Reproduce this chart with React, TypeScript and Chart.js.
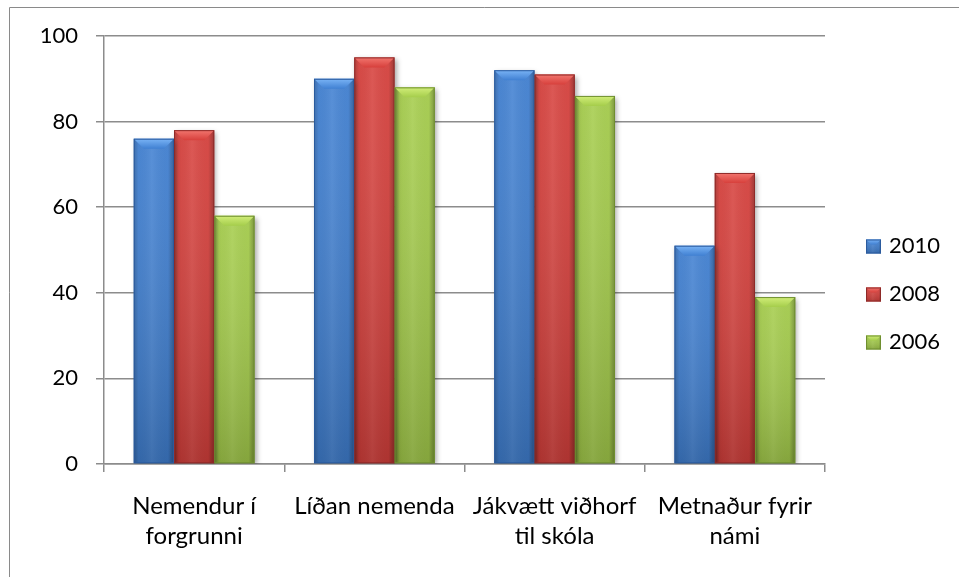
import React, { useEffect, useRef } from "react";
import { Chart, registerables } from "chart.js";

Chart.register(...registerables);

const categories: string[][] = [
  ["Nemendur í", "forgrunni"],
  ["Líðan nemenda"],
  ["Jákvætt viðhorf", "til skóla"],
  ["Metnaður fyrir", "námi"],
];
const seriesLabels = ["2010", "2008", "2006"];
const values2010 = [76, 90, 92, 51];
const values2008 = [78, 95, 91, 68];
const values2006 = [58, 88, 86, 39];
const yMin = 0;
const yMax = 100;
const yStep = 20;

const seriesColors = ["#4080D2", "#D7403C", "#A5CD4B"];
const edgeColors = ["#2B5B9E", "#8E2A28", "#6F8F30"];
const bevelColors = ["#7AB4F6", "#F2766F", "#D2EE7A"];

const FONT = "Lato, 'Open Sans', sans-serif";
const GRID = "#8C8C8C";

const frame = {
  id: "frame",
  beforeDraw(chart: any) {
    const ctx = chart.ctx;
    ctx.save();
    ctx.fillStyle = "#ffffff";
    ctx.fillRect(0, 0, chart.width, chart.height);
    ctx.strokeStyle = "#8A8A8A";
    ctx.lineWidth = 1;
    ctx.beginPath();
    ctx.moveTo(9.5, chart.height);
    ctx.lineTo(9.5, 7.5);
    ctx.lineTo(chart.width, 7.5);
    ctx.stroke();
    ctx.restore();
  },
};

const barShadow = {
  id: "barShadow",
  beforeDatasetsDraw(chart: any) {
    const ctx = chart.ctx;
    ctx.save();
    ctx.shadowColor = "rgba(0,0,0,0.35)";
    ctx.shadowBlur = 5;
    ctx.shadowOffsetX = 2;
    ctx.shadowOffsetY = 2;
  },
  afterDatasetsDraw(chart: any) {
    chart.ctx.restore();
  },
};

function drawBevelBox(ctx: any, l: number, t: number, w: number, h: number, di: number, bevel: number) {
  ctx.save();
  let g = ctx.createLinearGradient(l, 0, l + w, 0);
  g.addColorStop(0, "rgba(0,0,0,0.22)");
  g.addColorStop(0.12, "rgba(0,0,0,0.02)");
  g.addColorStop(0.45, "rgba(255,255,255,0.07)");
  g.addColorStop(0.85, "rgba(0,0,0,0.02)");
  g.addColorStop(1, "rgba(0,0,0,0.3)");
  ctx.fillStyle = g;
  ctx.fillRect(l, t, w, h);
  g = ctx.createLinearGradient(0, t, 0, t + h);
  g.addColorStop(0, "rgba(255,255,255,0.06)");
  g.addColorStop(1, "rgba(0,0,0,0.18)");
  ctx.fillStyle = g;
  ctx.fillRect(l, t, w, h);
  const bv = Math.min(bevel, h / 2, w / 3);
  ctx.beginPath();
  ctx.moveTo(l, t);
  ctx.lineTo(l + w, t);
  ctx.lineTo(l + w - bv, t + bv);
  ctx.lineTo(l + bv, t + bv);
  ctx.closePath();
  const bg = ctx.createLinearGradient(0, t, 0, t + bv);
  bg.addColorStop(0, bevelColors[di]);
  bg.addColorStop(1, seriesColors[di]);
  ctx.fillStyle = bg;
  ctx.fill();
  ctx.strokeStyle = edgeColors[di];
  ctx.lineWidth = 1;
  ctx.strokeRect(l + 0.5, t + 0.5, w - 1, h - 1);
  ctx.restore();
}

const barFx = {
  id: "barFx",
  afterDatasetsDraw(chart: any) {
    const ctx = chart.ctx;
    chart.data.datasets.forEach((_ds: any, di: number) => {
      const meta = chart.getDatasetMeta(di);
      meta.data.forEach((bar: any) => {
        const { x, y, base, width } = bar.getProps(["x", "y", "base", "width"], true);
        drawBevelBox(ctx, x - width / 2, y, width, base - y, di, 10);
      });
    });
  },
};

const sideLegend = {
  id: "sideLegend",
  afterDraw(chart: any) {
    const ctx = chart.ctx;
    const area = chart.chartArea;
    const x0 = area.right + 41;
    const midY = chart.height / 2 + 5;
    const n = chart.data.datasets.length;
    ctx.save();
    chart.data.datasets.forEach((ds: any, i: number) => {
      const cy = midY + (i - (n - 1) / 2) * 48;
      ctx.fillStyle = seriesColors[i];
      ctx.fillRect(x0, cy - 6, 15, 14);
      drawBevelBox(ctx, x0, cy - 6, 15, 14, i, 6);
      ctx.fillStyle = "#000";
      ctx.font = `22px ${FONT}`;
      ctx.textBaseline = "middle";
      ctx.textAlign = "left";
      ctx.fillText(ds.label, x0 + 23, cy);
    });
    ctx.restore();
  },
};

export default function App() {
  const ref = useRef<HTMLCanvasElement | null>(null);
  useEffect(() => {
    if (!ref.current) return;
    const datasets = [values2010, values2008, values2006].map((vals, i) => ({
      label: seriesLabels[i],
      data: vals,
      backgroundColor: seriesColors[i],
      borderWidth: 0,
      categoryPercentage: 0.67,
      barPercentage: 1,
    }));
    const chart = new Chart(ref.current, {
      type: "bar",
      data: { labels: categories, datasets },
      options: {
        responsive: false,
        animation: false,
        events: [],
        layout: { padding: { top: 36, right: 134, bottom: 0, left: 0 } },
        plugins: {
          legend: { display: false },
          tooltip: { enabled: false },
        },
        scales: {
          x: {
            grid: { drawOnChartArea: false, tickLength: 8, color: GRID, lineWidth: 1.5, offset: true },
            border: { color: GRID, width: 1.5 },
            ticks: {
              color: "#000",
              font: { family: FONT, size: 24, lineHeight: 1.22 },
              padding: 20,
              maxRotation: 0,
              autoSkip: false,
            },
            afterFit: (s: any) => {
              s.height = 113;
            },
          },
          y: {
            min: yMin,
            max: yMax,
            grid: { tickLength: 8, color: GRID, lineWidth: 1.5 },
            border: { color: GRID, width: 1.5 },
            ticks: {
              stepSize: yStep,
              color: "#000",
              font: { family: FONT, size: 22 },
              padding: 18,
            },
            afterFit: (s: any) => {
              s.width = 104;
            },
          },
        },
      },
      plugins: [frame, barShadow, barFx, sideLegend],
    });
    return () => chart.destroy();
  }, []);
  return (
    <div style={{ position: "absolute", left: 0, top: 0, width: 959, height: 577, overflow: "hidden", background: "#fff" }}>
      <canvas ref={ref} width={959} height={577} style={{ display: "block" }} />
    </div>
  );
}
